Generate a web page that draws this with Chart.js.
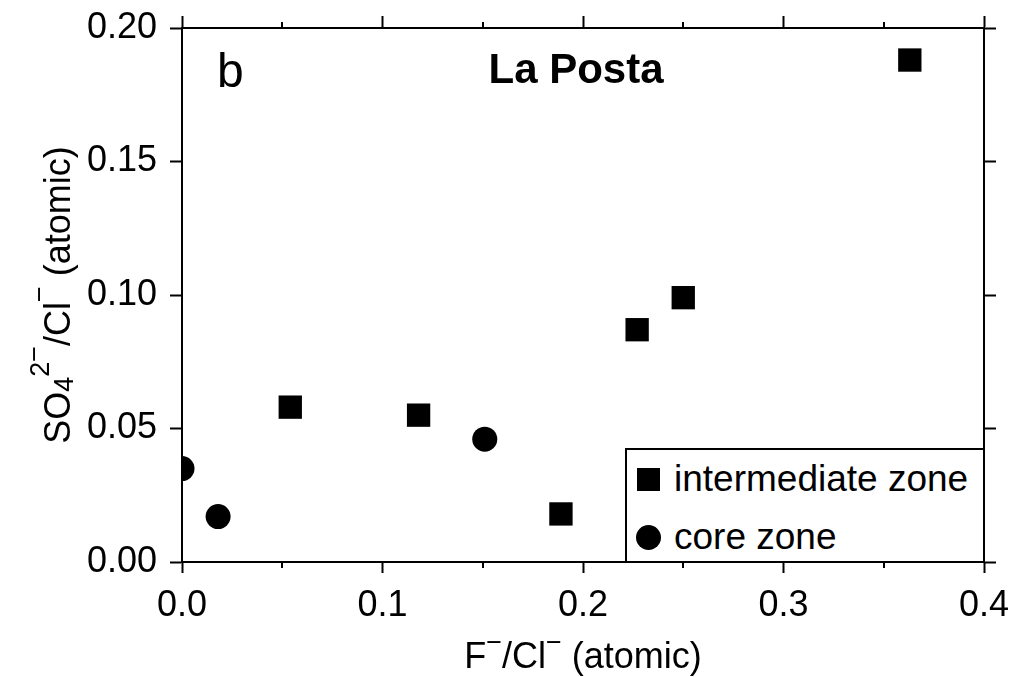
<!DOCTYPE html>
<html>
<head>
<meta charset="utf-8">
<script src="https://cdn.jsdelivr.net/npm/chart.js@4.4.1/dist/chart.umd.min.js"></script>
<style>
  html, body { margin: 0; padding: 0; background: #fff; }
  #wrap { position: relative; width: 1010px; height: 677px; }
  #legend {
    position: absolute;
    box-sizing: border-box;
    border-top: 2px solid #000;
    border-left: 2px solid #000;
    background: #fff;
    font-family: 'Liberation Sans', Arial, sans-serif;
    font-size: 37px;
    color: #000;
    padding: 0 0 0 8px;
  }
  #legend .row { display: flex; align-items: center; height: 58px; white-space: nowrap; }
  #legend .mark { display: inline-block; width: 23px; height: 23px; background: #000; margin: 0 14px 0 2px; }
  #legend .mark.circle { width: 25px; height: 25px; border-radius: 50%; margin: 0 13px 0 1px; }
</style>
</head>
<body>
<div id="wrap">
  <canvas id="chart" width="1010" height="677"></canvas>
  <div id="legend"></div>
</div>
<script>
// La Posta - SO4/Cl vs F/Cl (atomic ratios)
const interX = [0.054, 0.118, 0.189, 0.227, 0.250, 0.363];
const interY = [0.058, 0.055, 0.018, 0.087, 0.099, 0.188];
const coreX = [0.000, 0.018, 0.151];
const coreY = [0.035, 0.017, 0.046];

const seriesNames = ['intermediate zone', 'core zone'];
const xMinorTicks = [0.05, 0.15, 0.25, 0.35];

const FONT = "'Liberation Sans', Arial, sans-serif";

// axis titles, split so super/subscripts can be drawn at their own size
const xTitle = [
    { text: 'F', size: 36 },
    { text: '\u2212', size: 27, dy: -17 },
    { text: '/Cl', size: 36 },
    { text: '\u2212', size: 27, dy: -17 },
    { text: ' (atomic)', size: 36 }
];
const yTitle = [
    { text: 'SO', size: 36 },
    { text: '4', size: 27, dy: 3 },
    { text: '2', size: 27, dy: -21 },
    { text: '\u2212', size: 27, dy: -27 },
    { text: '/Cl', size: 36 },
    { text: '\u2212', size: 27, dy: -22 },
    { text: ' (atomic)', size: 36 }
];

const toPoints = (xs, ys) => xs.map((x, i) => ({ x, y: ys[i] }));

function drawRich(ctx, segs, x, y, angle) {
    ctx.save();
    ctx.translate(x, y);
    ctx.rotate(angle);
    ctx.textBaseline = 'alphabetic';
    ctx.textAlign = 'left';
    let total = 0;
    segs.forEach(s => {
        ctx.font = `${s.size}px ${FONT}`;
        total += ctx.measureText(s.text).width;
    });
    let cx = -total / 2;
    segs.forEach(s => {
        ctx.font = `${s.size}px ${FONT}`;
        ctx.fillText(s.text, cx, s.dy || 0);
        cx += ctx.measureText(s.text).width;
    });
    ctx.restore();
}

// short minor ticks on the top and bottom axes
const minorTicks = {
    id: 'minorTicks',
    afterDraw(chart) {
        const ctx = chart.ctx;
        const { top, bottom } = chart.chartArea;
        const sx = chart.scales.x;
        ctx.save();
        ctx.strokeStyle = '#000';
        ctx.lineWidth = 2;
        xMinorTicks.forEach(v => {
            const px = Math.round(sx.getPixelForValue(v));
            ctx.beginPath();
            ctx.moveTo(px, bottom);
            ctx.lineTo(px, bottom + 6);
            ctx.moveTo(px, top);
            ctx.lineTo(px, top - 6);
            ctx.stroke();
        });
        ctx.restore();
    }
};

// panel letter, site name and axis titles
const panelText = {
    id: 'panelText',
    afterDraw(chart) {
        const ctx = chart.ctx;
        const { left, right, top, bottom } = chart.chartArea;
        const midX = (left + right) / 2;
        const midY = (top + bottom) / 2;
        ctx.save();
        ctx.fillStyle = '#000';
        ctx.textBaseline = 'alphabetic';
        ctx.textAlign = 'left';
        ctx.font = `48px ${FONT}`;
        ctx.fillText('b', left + 35, top + 59);
        ctx.textAlign = 'center';
        ctx.font = `bold 42px ${FONT}`;
        ctx.fillText('La Posta', midX - 7, top + 55);
        drawRich(ctx, xTitle, midX, 668, 0);
        drawRich(ctx, yTitle, 70, midY, -Math.PI / 2);
        ctx.restore();
    }
};

const axisBase = {
    type: 'linear',
    border: { color: '#000', width: 2 },
    grid: {
        drawOnChartArea: false,
        drawTicks: true,
        tickLength: 12,
        tickColor: '#000',
        tickWidth: 2
    }
};

// fixed axis sizes so the plot box lands where the reference has it
const fixSize = (w, h) => s => {
    if (w !== null) s.width = w;
    if (h !== null) s.height = h;
    s.paddingLeft = 0;
    s.paddingRight = 0;
    s.paddingTop = 0;
    s.paddingBottom = 0;
};

const chart = new Chart(document.getElementById('chart'), {
    type: 'scatter',
    data: {
        datasets: [
            {
                label: seriesNames[0],
                data: toPoints(interX, interY),
                pointStyle: 'rect',
                pointRadius: 16.5,
                pointHoverRadius: 16.5,
                backgroundColor: '#000',
                borderWidth: 0
            },
            {
                label: seriesNames[1],
                data: toPoints(coreX, coreY),
                pointStyle: 'circle',
                pointRadius: 12.5,
                pointHoverRadius: 12.5,
                backgroundColor: '#000',
                borderWidth: 0
            }
        ]
    },
    options: {
        responsive: false,
        animation: false,
        layout: { padding: 0 },
        plugins: {
            legend: { display: false },
            tooltip: { enabled: false }
        },
        scales: {
            x: {
                ...axisBase,
                position: 'bottom',
                min: 0,
                max: 0.4,
                grid: { ...axisBase.grid, tickLength: 11 },
                ticks: {
                    stepSize: 0.1,
                    color: '#000',
                    padding: 11,
                    maxRotation: 0,
                    font: { family: FONT, size: 36 },
                    callback: v => v.toFixed(1)
                },
                afterFit: fixSize(null, 115)
            },
            x2: {
                ...axisBase,
                position: 'top',
                min: 0,
                max: 0.4,
                ticks: { stepSize: 0.1, display: false },
                afterFit: fixSize(null, 28)
            },
            y: {
                ...axisBase,
                position: 'left',
                min: 0,
                max: 0.2,
                ticks: {
                    stepSize: 0.05,
                    color: '#000',
                    padding: 13,
                    font: { family: FONT, size: 36 },
                    callback: v => v.toFixed(2)
                },
                afterFit: fixSize(182, null)
            },
            y2: {
                ...axisBase,
                position: 'right',
                min: 0,
                max: 0.2,
                ticks: { stepSize: 0.05, display: false },
                afterFit: fixSize(26, null)
            }
        }
    },
    plugins: [minorTicks, panelText]
});

// legend box in the lower right corner of the plot
const legendEl = document.getElementById('legend');
const area = chart.chartArea;
legendEl.style.left = (area.left + 443) + 'px';
legendEl.style.top = (area.top + 420) + 'px';
legendEl.style.width = (area.right - area.left - 444) + 'px';
legendEl.style.height = (area.bottom - area.top - 421) + 'px';
chart.data.datasets.forEach(ds => {
    const row = document.createElement('div');
    row.className = 'row';
    const mark = document.createElement('span');
    mark.className = 'mark' + (ds.pointStyle === 'circle' ? ' circle' : '');
    const label = document.createElement('span');
    label.textContent = ds.label;
    row.appendChild(mark);
    row.appendChild(label);
    legendEl.appendChild(row);
});
</script>
</body>
</html>
